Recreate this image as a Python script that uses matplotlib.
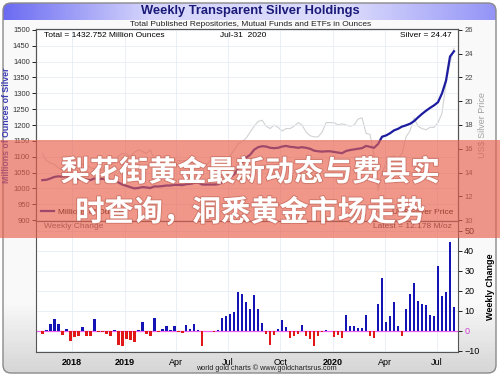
import numpy as np
import pandas as pd
import matplotlib
matplotlib.use("Agg")
import matplotlib.pyplot as plt
import matplotlib.dates as mdates
import matplotlib.patheffects as pe
from matplotlib.patches import FancyBboxPatch, Rectangle

plt.rcParams["font.family"] = ["Liberation Sans", "DejaVu Sans"]

# weekly data, last week ending Jul-31 2020
last_week = "2020-07-31"

holdings = [  # million ounces
    1026, 1027, 1031, 1036, 1038, 1037, 1038, 1034, 1031, 1029,
    1030, 1028, 1026, 1031, 1030, 1030, 1029, 1026, 1026, 1019,
    1012, 1008, 1004, 1000, 1001, 1004, 1003, 1001, 1006, 1006,
    1007, 1009, 1009, 1011, 1011, 1010, 1013, 1014, 1017, 1018,
    1012, 1012, 1012, 1012, 1013, 1019, 1027, 1035, 1044, 1063,
    1082, 1097,
    1106, 1122, 1130, 1133, 1132, 1128, 1127, 1128, 1132, 1134,
    1131, 1130, 1128, 1130, 1128, 1125, 1119, 1117, 1116, 1117,
    1117, 1115, 1113, 1111, 1118, 1121, 1123, 1125, 1127, 1134,
    1131, 1128, 1140, 1163, 1167, 1174, 1183, 1188, 1195, 1199,
    1204, 1212, 1224, 1235, 1245, 1254, 1262, 1272, 1300, 1340,
    1416, 1432.752,
]

silver = [  # US$ per ounce
    15.6, 15.0, 14.8, 14.7, 14.4, 14.2, 14.3, 14.6, 14.6, 14.6,
    14.7, 14.7, 14.4, 14.3, 14.2, 14.2, 14.6, 14.7, 14.8, 15.4,
    15.6, 15.6, 15.3, 15.7, 15.9, 15.8, 15.6, 15.9, 15.2, 15.1,
    15.3, 15.4, 15.1, 15.1, 15.0, 15.0, 15.0, 14.9, 14.8, 14.4,
    14.5, 14.6, 15.0, 15.0, 15.3, 15.3, 15.2, 15.4, 15.9, 16.4,
    16.6, 16.9,
    17.4, 17.9, 18.3, 18.4, 17.9, 17.7, 18.0, 17.8, 17.5, 17.7,
    17.7, 17.9, 18.2, 18.0, 17.4, 17.1, 17.0, 17.0, 17.4, 18.2,
    18.2, 18.2, 18.0, 18.1, 18.0, 17.9, 18.0, 18.5, 18.6, 17.3,
    17.2, 15.5, 12.5, 14.0, 14.8, 15.3, 15.4, 15.2, 15.6, 17.0,
    17.5, 18.6, 17.9, 17.7, 17.6, 17.8, 17.8, 18.2, 19.0, 21.5,
    23.2, 24.47,
]

weekly_change = [  # million ounces
    -1.3, 0.7, 3.7, 6.0, 3.3, -2.0, 1.2, -4.8, -3.2, -2.7,
    2.0, -2.3, -2.3, 6.0, -0.5, -0.7, -1.3, -2.7, 0.3, -7.0,
    -7.3, -4.0, -4.3, -5.7, 0.7, 4.3, -1.3, -2.7, 6.7, -0.5,
    1.0, 2.3, 0.3, 2.3, -0.3, -1.0, 3.0, 1.0, 3.7, 0.7,
    -7.3, 0.0, 0.0, -0.3, 0.7, 6.7, 7.7, 8.7, 9.3, 19.3,
    18.7, 14.7,
    10.8, 17.8, 10.8, 4.0, -1.3, -7.0, -2.2, 1.0, 5.3, 2.0,
    -3.7, -2.3, -1.7, 3.0, -2.7, -4.0, -7.7, -2.3, -0.7, 0.7,
    0.0, -3.0, -2.0, -3.7, 8.2, 2.3, 2.7, 1.3, 1.7, 8.2,
    -2.7, -3.7, 13.7, 26.3, 4.5, 7.7, 14.3, 2.3, -2.3, 11.2,
    18.7, 24.0, 15.0, 13.3, 12.8, 8.0, 7.3, 32.5, 17.7, 19.3,
    44.7, 12.178,
]

tick_dates = ["2018-10-01", "2019-01-01", "2019-04-01", "2019-07-01",
              "2019-10-01", "2020-01-01", "2020-04-01", "2020-07-01"]
tick_labels = ["2018", "2019", "Apr", "Jul", "Oct", "2020", "Apr", "Jul"]

banner_lines = ["梨花街黄金最新动态与费县实", "时查询，洞悉黄金市场走势"]

W, H = 500, 378
dates = pd.date_range(end=last_week, periods=len(holdings), freq="7D")
x = mdates.date2num(dates.to_pydatetime())
xticks = mdates.date2num(pd.to_datetime(tick_dates).to_pydatetime())
xlim = mdates.date2num(pd.to_datetime(["2018-07-30", "2020-08-07"]).to_pydatetime())


def box(left, top, right, bottom):
    """Pixel box -> figure fraction rect."""
    return [left / W, 1 - bottom / H, (right - left) / W, (bottom - top) / H]


fig = plt.figure(figsize=(W / 100, H / 100), dpi=100)

# background panel with gradients
bg = fig.add_axes([0, 0, 1, 1], zorder=-10)
bg.set_xlim(0, W)
bg.set_ylim(H, 0)
bg.axis("off")
panel = FancyBboxPatch((3, 3), 493, 370, boxstyle="round,pad=0,rounding_size=8",
                       facecolor="none", edgecolor="#8a8a8a", lw=1.0, zorder=3)
bg.add_patch(panel)
vgrad = np.ones((100, 1))
vgrad[80:, 0] = np.linspace(1.0, 0.0, 20)
shade = np.stack([0.84 + 0.14 * vgrad] * 3, axis=-1)
im = bg.imshow(shade, extent=(3, 496, 373, 3), aspect="auto", zorder=1)
im.set_clip_path(panel)
hpos = np.linspace(0, 1, 200)
r = np.interp(hpos, [0, 0.3, 0.7, 1], [0.42, 0.84, 0.86, 0.58])
b = np.interp(hpos, [0, 0.3, 0.7, 1], [0.95, 0.99, 0.99, 0.97])
tbar = np.stack([r, r, b], axis=-1)[None, :, :]
im2 = bg.imshow(tbar, extent=(3, 496, 20, 3), aspect="auto", zorder=2)
im2.set_clip_path(panel)

fig.text(250 / W, 1 - 11 / H, "Weekly Transparent Silver Holdings", ha="center", va="center",
         fontsize=9.3, fontweight="bold", color="#1a1a78")
fig.text(251 / W, 1 - 24.5 / H, "Total Published Repositories, Mutual Funds and ETFs in Ounces",
         ha="center", va="center", fontsize=6, color="#222222")

# upper panel: holdings and silver price
ax1 = fig.add_axes(box(36, 29, 458, 221))
ax1r = ax1.twinx()
ax1.set_zorder(ax1r.get_zorder() + 1)
ax1.patch.set_visible(False)
ax1r.patch.set_visible(True)
ax1r.patch.set_facecolor("white")

h_line, = ax1.plot(x, holdings, color="#1c1ca0", lw=1.6, zorder=3, label="Millions of Ounces")
s_line, = ax1r.plot(x, silver, color="#d2d2d2", lw=0.8, label="US$ Silver Price")
ax1.set_xlim(*xlim)
ax1.set_ylim(897, 1503)
ax1.set_yticks(np.arange(900, 1501, 50))
ax1r.set_ylim(9.92, 26.08)
ax1r.set_yticks(np.arange(10, 27, 2))
ax1.set_xticks(xticks)
ax1.set_xticklabels([])
ax1.grid(True, color="#e6edf4", lw=0.6)
ax1.tick_params(axis="x", length=0)
ax1.tick_params(axis="y", labelsize=5.5, labelcolor="#333333", length=3, width=0.6, pad=1.5)
ax1r.tick_params(axis="y", labelsize=5.5, labelcolor="#444444", length=3, width=0.6, pad=1.5)
for a in (ax1, ax1r):
    for s in a.spines.values():
        s.set_color("#555555")
        s.set_linewidth(0.8)

ax1.text(0.018, 0.985, "Total = 1432.752 Million Ounces", transform=ax1.transAxes,
         ha="left", va="top", fontsize=6)
ax1.text(0.49, 0.985, "Jul-31  2020", transform=ax1.transAxes, ha="center", va="top", fontsize=6)
ax1.text(0.985, 0.985, "Silver = 24.47", transform=ax1.transAxes, ha="right", va="top", fontsize=6)
ax1.legend(handles=[h_line], loc="lower left", frameon=False, fontsize=6,
           handlelength=1.6, borderaxespad=0.2, handletextpad=0.4)
ax1r.legend(handles=[s_line], loc="lower right", frameon=False, fontsize=6,
            handlelength=1.6, borderaxespad=0.2, handletextpad=0.4)

ax1.set_ylabel("Millions of Ounces of Silver", fontsize=6.3, fontweight="bold",
               color="#3c3cb4", labelpad=1)
ax1r.set_ylabel("US$ Silver Price", fontsize=6.5, color="#a0a0a0", labelpad=4)

# lower panel: weekly change bars
ax2 = fig.add_axes(box(36, 221, 458, 352))
bar_colors = ["#1414b4" if v >= 0 else "#e01818" for v in weekly_change]
ax2.bar(x, weekly_change, width=4.6, color=bar_colors, zorder=3)
ax2.axhline(0, color="#f060f0", lw=0.9, zorder=2)
ax2.set_xlim(*xlim)
ax2.set_ylim(-10.5, 55)
ax2.set_yticks(np.arange(-10, 51, 10))
ax2.yaxis.tick_right()
ax2.set_xticks(xticks)
ax2.set_xticklabels(tick_labels)
for lbl in ax2.get_xticklabels():
    if lbl.get_text().isdigit():
        lbl.set_fontweight("bold")
for lbl in ax2.get_yticklabels():
    if lbl.get_text() == "0":
        lbl.set_color("#d040d0")
ax2.grid(True, color="#e6edf4", lw=0.6, zorder=0)
ax2.tick_params(axis="x", labelsize=6.5, length=0, pad=4)
ax2.tick_params(axis="y", labelsize=6.5, length=3, width=0.6, pad=1.5)
for s in ax2.spines.values():
    s.set_color("#555555")
    s.set_linewidth(0.8)
ax2.yaxis.set_label_position("right")
ax2.set_ylabel("Weekly Change", fontsize=6.5, fontweight="bold", labelpad=5)
ax2.text(0.018, 0.985, "Weekly Change", transform=ax2.transAxes, ha="left", va="top",
         fontsize=6, color="#555555")
ax2.text(0.985, 0.985, "Latest = 12.178 M/oz", transform=ax2.transAxes, ha="right",
         va="top", fontsize=6, color="#333333")

fig.text(266 / W, 1 - 368 / H, "world gold charts \u00a9 www.goldchartsrus.com",
         ha="center", va="center", fontsize=5.2, color="#222222")

# salmon banner on top of the chart
fig.add_artist(Rectangle((0, 1 - 238 / H), 1, 98 / H, transform=fig.transFigure,
                         facecolor="#e8604c", alpha=0.65, edgecolor="none", zorder=20))
shadow = [pe.withStroke(linewidth=1.5, foreground=(0.75, 0.4, 0.35, 0.6))]
for txt, ypx in zip(banner_lines, [172, 212]):
    fig.text(250 / W, 1 - ypx / H, txt, ha="center", va="center", fontsize=21,
             fontweight="bold", color="white", family=["Noto Sans CJK SC", "DejaVu Sans"],
             zorder=21, path_effects=shadow)

fig.savefig("out.png", dpi=100)
